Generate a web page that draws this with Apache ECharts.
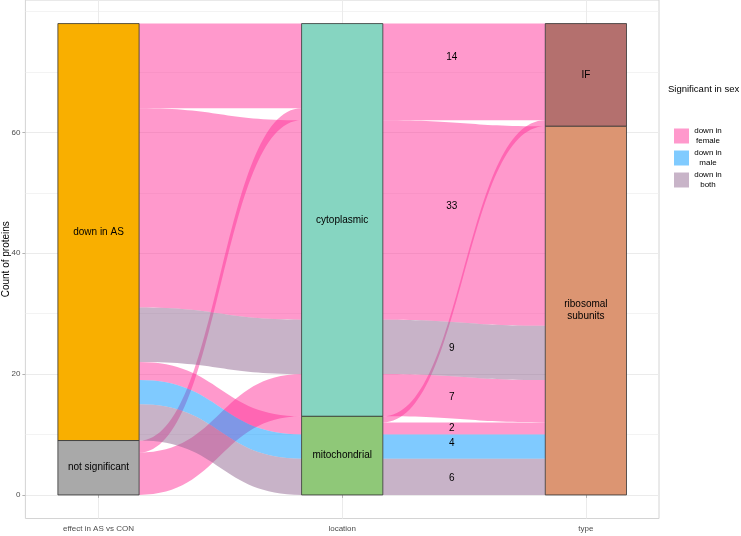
<!DOCTYPE html>
<html>
<head>
<meta charset="utf-8">
<title>Count of proteins</title>
<script src="https://cdn.jsdelivr.net/npm/echarts@6/dist/echarts.min.js"></script>
<style>
  html, body { margin: 0; padding: 0; background: #fff; }
  #chart { width: 741px; height: 536px; }
</style>
</head>
<body>
<div id="chart"></div>
<script>
// axis names (x positions 1, 2, 3)
var axisNames = ['effect in AS vs CON', 'location', 'type'];

// strata on each axis, listed top to bottom
var strata1 = ['down in AS', 'not significant'];
var counts1 = [69, 9];
var strata2 = ['cytoplasmic', 'mitochondrial'];
var counts2 = [65, 13];
var strata3 = ['IF', 'ribosomal\nsubunits'];
var counts3 = [17, 61];
var strataColors = [['#F9AF00', '#A9A9A9'], ['#86D5C1', '#8FC878'], ['#B4706E', '#DC9572']];

// sex categories (legend)
var sexNames = ['down in\nfemale', 'down in\nmale', 'down in\nboth'];
var sexFill = ['rgba(255,51,153,0.5)', 'rgba(0,150,255,0.5)', 'rgba(146,104,146,0.5)'];
var sexKey = ['#FF99CC', '#80CBFF', '#C8B4C8'];

// y ticks
var yTicks = [0, 20, 40, 60];
var yMinorGrid = [10, 30, 50, 70, 80];

// flows effect -> location, in the order they leave the effect axis (top to bottom)
var flowA_from = [0, 0, 0, 0, 0, 0, 1, 1];
var flowA_to = [0, 0, 0, 1, 1, 1, 0, 0];
var flowA_sex = [0, 0, 2, 0, 1, 2, 0, 0];
var flowA_n = [14, 33, 9, 3, 4, 6, 2, 7];
var flowA_arrive = [0, 6, 1, 2, 7, 3, 4, 5]; // order on the location axis

// flows location -> type
var flowB_from = [0, 0, 0, 0, 1, 1, 1, 1];
var flowB_to = [0, 1, 1, 1, 0, 1, 1, 1];
var flowB_sex = [0, 0, 2, 0, 0, 0, 1, 2];
var flowB_n = [16, 33, 9, 7, 1, 2, 4, 6];
var flowB_arrive = [0, 4, 1, 2, 3, 5, 6, 7]; // order on the type axis

// count labels between location and type
var flowLabels = ['14', '33', '9', '7', '2', '4', '6'];
var flowLabelY = [72.5, 47.7, 24.3, 16.2, 11.1, 8.6, 2.8];
var flowLabelX = 2.45;

var W = 1 / 3; // stratum width

function stackTops(counts) {
    var total = 0, i, tops = [];
    for (i = 0; i < counts.length; i++) total += counts[i];
    for (i = 0; i < counts.length; i++) {
        tops.push(total);
        total -= counts[i];
    }
    return tops;
}

function buildFlows(ax, from, to, sex, n, arrive, cFrom, cTo) {
    var curFrom = stackTops(cFrom), curTo = stackTops(cTo);
    var out = [], i, k;
    for (i = 0; i < n.length; i++) {
        out[i] = {sex: sex[i], v: [ax + W / 2, curFrom[from[i]], curFrom[from[i]] - n[i]]};
        curFrom[from[i]] -= n[i];
    }
    for (k = 0; k < arrive.length; k++) {
        i = arrive[k];
        out[i].v.push(ax + 1 - W / 2, curTo[to[i]], curTo[to[i]] - n[i]);
        curTo[to[i]] -= n[i];
    }
    return out;
}

var allFlows = buildFlows(1, flowA_from, flowA_to, flowA_sex, flowA_n, flowA_arrive, counts1, counts2)
    .concat(buildFlows(2, flowB_from, flowB_to, flowB_sex, flowB_n, flowB_arrive, counts2, counts3));

// strata rectangles
var strataData = [];
[[strata1, counts1], [strata2, counts2], [strata3, counts3]].forEach(function (s, a) {
    var tops = stackTops(s[1]);
    s[0].forEach(function (name, j) {
        strataData.push({value: [a + 1, tops[j], tops[j] - s[1][j]], name: name, itemStyle: {color: strataColors[a][j]}});
    });
});

var FONT = 'Liberation Sans, Arial, sans-serif';

function renderFlow(params, api) {
    var a0 = api.coord([api.value(0), api.value(1)]);
    var b0 = api.coord([api.value(0), api.value(2)]);
    var a1 = api.coord([api.value(3), api.value(4)]);
    var b1 = api.coord([api.value(3), api.value(5)]);
    var mx = (a0[0] + a1[0]) / 2;
    var d = 'M' + a0[0] + ' ' + a0[1] +
        ' C' + mx + ' ' + a0[1] + ' ' + mx + ' ' + a1[1] + ' ' + a1[0] + ' ' + a1[1] +
        ' L' + b1[0] + ' ' + b1[1] +
        ' C' + mx + ' ' + b1[1] + ' ' + mx + ' ' + b0[1] + ' ' + b0[0] + ' ' + b0[1] + ' Z';
    return {
        type: 'path',
        shape: {pathData: d},
        style: {fill: sexFill[params.seriesIndex], stroke: null}
    };
}

function renderStratum(params, api) {
    var x = api.value(0);
    var p0 = api.coord([x - W / 2, api.value(1)]);
    var p1 = api.coord([x + W / 2, api.value(2)]);
    return {
        type: 'group',
        children: [{
            type: 'rect',
            shape: {x: p0[0], y: p0[1], width: p1[0] - p0[0], height: p1[1] - p0[1]},
            style: {fill: api.visual('color'), stroke: '#333333', lineWidth: 0.8}
        }, {
            type: 'text',
            x: (p0[0] + p1[0]) / 2,
            y: (p0[1] + p1[1]) / 2,
            style: {text: strataData[params.dataIndex].name, fill: '#000', font: '10px ' + FONT,
                align: 'center', verticalAlign: 'middle', lineHeight: 12}
        }]
    };
}

function renderLabel(params, api) {
    var p = api.coord([api.value(0), api.value(1)]);
    return {
        type: 'text', x: p[0], y: p[1],
        style: {text: flowLabels[params.dataIndex], fill: '#000', font: '10px ' + FONT,
            align: 'center', verticalAlign: 'middle'}
    };
}

var series = [];
sexNames.forEach(function (name, s) {
    series.push({
        name: name,
        type: 'custom',
        coordinateSystem: 'cartesian2d',
        renderItem: renderFlow,
        itemStyle: {color: sexKey[s]},
        encode: {x: [0, 3], y: [1, 2, 4, 5]},
        data: allFlows.filter(function (f) { return f.sex === s; }).map(function (f) { return f.v; }),
        z: 2,
        silent: true
    });
});
series.push({
    type: 'custom',
    coordinateSystem: 'cartesian2d',
    renderItem: renderStratum,
    encode: {x: 0, y: [1, 2]},
    data: strataData,
    z: 3,
    silent: true
});
series.push({
    type: 'custom',
    coordinateSystem: 'cartesian2d',
    renderItem: renderLabel,
    encode: {x: 0, y: 1},
    data: flowLabelY.map(function (y) { return [flowLabelX, y]; }),
    z: 4,
    silent: true
});

var myChart = echarts.init(document.getElementById('chart'), null, {renderer: 'canvas'});
var option = {
    animation: false,
    backgroundColor: '#ffffff',
    title: {
        text: 'Significant in sex',
        left: 668, top: 84, padding: 0,
        textStyle: {fontSize: 9.5, fontWeight: 'normal', color: '#000', fontFamily: FONT}
    },
    legend: {
        orient: 'vertical',
        left: 674, top: 127, padding: 0,
        itemWidth: 15, itemHeight: 15, itemGap: 4,
        icon: 'rect',
        data: sexNames,
        formatter: function (name) {
            return name.split('\n').map(function (s) { return '{a|' + s + '}'; }).join('\n');
        },
        textStyle: {
            fontSize: 8, color: '#000', fontFamily: FONT,
            rich: {a: {fontSize: 8, width: 28, align: 'center', lineHeight: 10, fontFamily: FONT}}
        }
    },
    grid: {left: 25.4, right: 82, top: 0, bottom: 17.5, show: true, borderColor: '#d4d4d4', borderWidth: 1,
        containLabel: false, outerBoundsMode: 'none'},
    xAxis: {
        type: 'value', min: 0.7, max: 3.3,
        axisLine: {show: false},
        axisTick: {show: true, customValues: [1, 2, 3], length: 3, lineStyle: {color: '#b3b3b3'}},
        axisLabel: {
            customValues: [1, 2, 3],
            formatter: function (v) { return axisNames[Math.round(v) - 1]; },
            fontSize: 8, color: '#4d4d4d', margin: 6, fontFamily: FONT
        },
        splitLine: {show: true, lineStyle: {color: '#ebebeb', width: 1}}
    },
    yAxis: [{
        type: 'value', min: -3.9, max: 81.9,
        name: 'Count of proteins', nameLocation: 'middle', nameGap: 14, nameMoveOverlap: false,
        nameTextStyle: {fontSize: 10, color: '#000', fontFamily: FONT},
        axisLine: {show: false},
        axisTick: {show: true, customValues: yTicks, length: 3, lineStyle: {color: '#b3b3b3'}},
        axisLabel: {customValues: yTicks, fontSize: 8, color: '#4d4d4d', margin: 5, fontFamily: FONT},
        splitLine: {show: true, lineStyle: {color: '#ebebeb', width: 1}}
    }, {
        type: 'value', min: -3.9, max: 81.9, position: 'left',
        axisLine: {show: false},
        axisTick: {show: false, customValues: yMinorGrid},
        axisLabel: {show: false, customValues: yMinorGrid},
        splitLine: {show: true, lineStyle: {color: '#eeeeee', width: 0.7}}
    }],
    series: series
};
myChart.setOption(option);
</script>
</body>
</html>
